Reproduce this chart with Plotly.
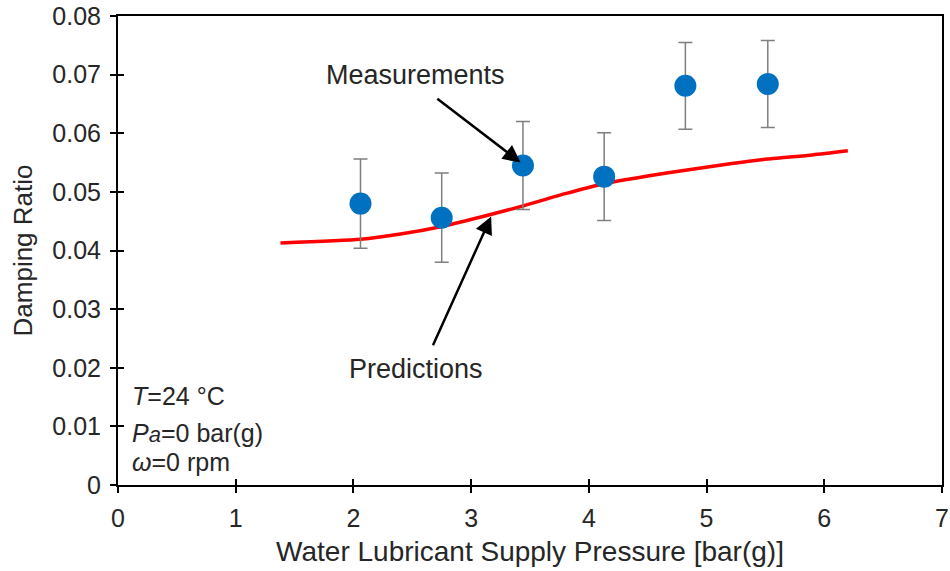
import plotly.graph_objects as go

# Measurements
meas_x = [2.06, 2.75, 3.44, 4.13, 4.82, 5.52]
meas_y = [0.0480, 0.0456, 0.0545, 0.0526, 0.0681, 0.0684]
meas_err = [0.0076, 0.0076, 0.0075, 0.0075, 0.0074, 0.0074]

# Predictions
pred_x = [1.38, 2.06, 2.4, 2.75, 3.1, 3.44, 3.8, 4.13, 4.5, 4.82, 5.2, 5.52, 5.9, 6.2]
pred_y = [0.0413, 0.0419, 0.0428, 0.0441, 0.0458, 0.0476, 0.0497, 0.0514,
          0.0527, 0.0537, 0.0548, 0.0556, 0.0563, 0.0570]

x_ticks = [0, 1, 2, 3, 4, 5, 6, 7]
y_ticks = [0, 0.01, 0.02, 0.03, 0.04, 0.05, 0.06, 0.07, 0.08]
y_tick_text = ["0", "0.01", "0.02", "0.03", "0.04", "0.05", "0.06", "0.07", "0.08"]

FONT = "Liberation Sans"
TXT = "#262626"
TICK_SIZE = 25
TITLE_SIZE = 28
NOTE_SIZE = 25

fig = go.Figure()
fig.add_trace(go.Scatter(
    x=pred_x, y=pred_y, mode="lines",
    line=dict(color="#FF0000", width=3.5, shape="spline", smoothing=0.6),
    showlegend=False, hoverinfo="skip"))
fig.add_trace(go.Scatter(
    x=meas_x, y=meas_y, mode="markers",
    marker=dict(color="#0070C0", size=22),
    error_y=dict(type="data", array=meas_err, visible=True,
                 color="#7F7F7F", thickness=1.5, width=7),
    showlegend=False))

axis_common = dict(showline=True, linecolor="black", linewidth=2, mirror=True,
                   showgrid=False, zeroline=False, ticks="outside", ticklen=6,
                   tickwidth=2, tickcolor="black", automargin=False,
                   ticklabelstandoff=4,
                   tickfont=dict(family=FONT, size=TICK_SIZE, color=TXT))

fig.update_layout(
    width=950, height=571,
    margin=dict(l=118, r=8, t=16, b=86),
    paper_bgcolor="white", plot_bgcolor="white",
    font=dict(family=FONT, size=TICK_SIZE, color=TXT),
    xaxis=dict(range=[0, 7], tickvals=x_ticks,
               title=dict(text="Water Lubricant Supply Pressure [bar(g)]",
                          font=dict(family=FONT, size=TITLE_SIZE, color=TXT), standoff=10),
               **axis_common),
    yaxis=dict(range=[0, 0.08], tickvals=y_ticks, ticktext=y_tick_text,
               title=dict(text="Damping Ratio",
                          font=dict(family=FONT, size=TITLE_SIZE - 2, color=TXT), standoff=12),
               **axis_common),
    xaxis2=dict(overlaying="x", matches="x", range=[0, 7], tickvals=x_ticks,
                ticks="inside", ticklen=6, tickwidth=2, tickcolor="black",
                showticklabels=False, showgrid=False, zeroline=False, side="bottom",
                anchor="y", automargin=False),
    yaxis2=dict(overlaying="y", matches="y", range=[0, 0.08], tickvals=y_ticks,
                ticks="inside", ticklen=6, tickwidth=2, tickcolor="black",
                showticklabels=False, showgrid=False, zeroline=False, side="left",
                anchor="x", automargin=False),
)
# dummy trace to activate the secondary axes
fig.add_trace(go.Scatter(x=[None], y=[None], xaxis="x2", yaxis="y2",
                         showlegend=False, hoverinfo="skip"))

# arrows
fig.add_annotation(x=3.42, y=0.0550, ax=2.70, ay=0.0661, xref="x", yref="y",
                   axref="x", ayref="y", showarrow=True, arrowhead=2,
                   arrowsize=1.4, arrowwidth=2.5, arrowcolor="black", text="")
fig.add_annotation(x=3.17, y=0.0458, ax=2.67, ay=0.0236, xref="x", yref="y",
                   axref="x", ayref="y", showarrow=True, arrowhead=2,
                   arrowsize=1.4, arrowwidth=2.5, arrowcolor="black", text="")
fig.add_annotation(x=2.53, y=0.0700, text="Measurements", showarrow=False,
                   font=dict(family=FONT, size=TITLE_SIZE - 1, color=TXT))
fig.add_annotation(x=2.53, y=0.0198, text="Predictions", showarrow=False,
                   font=dict(family=FONT, size=TITLE_SIZE - 1, color=TXT))

# condition notes
fig.add_annotation(x=0.1, y=0.0151, xanchor="left", text="<i>T</i>=24 °C",
                   showarrow=False, font=dict(family=FONT, size=NOTE_SIZE, color=TXT))
fig.add_annotation(x=0.1, y=0.0089, xanchor="left",
                   text="<i>P</i><span style='font-size:22px'><i>a</i></span>=0 bar(g)",
                   showarrow=False, font=dict(family=FONT, size=NOTE_SIZE, color=TXT))
fig.add_annotation(x=0.1, y=0.0039, xanchor="left", text="<i>ω</i>=0 rpm",
                   showarrow=False, font=dict(family=FONT, size=NOTE_SIZE, color=TXT))

fig.write_html("out.html")
